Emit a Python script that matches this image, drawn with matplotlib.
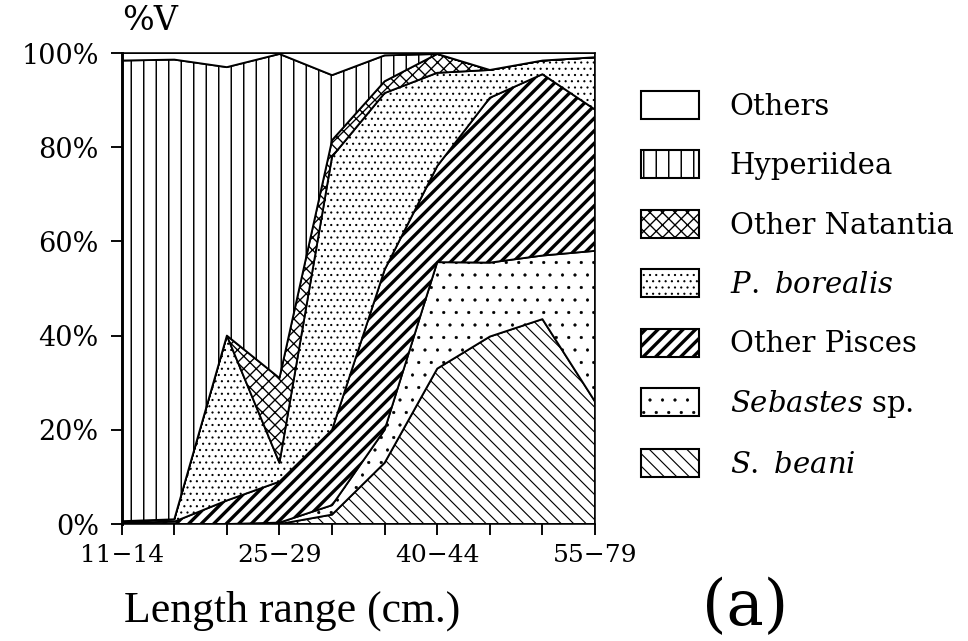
import numpy as np
import matplotlib
matplotlib.use('Agg')
import matplotlib.pyplot as plt

# ---------------- data (cumulative stack: bottom -> top) ----------------
categories = ['11-14', '15-19', '20-24', '25-29', '30-34',
              '35-39', '40-44', '45-49', '50-54', '55-79']
tick_labels = ['11\u221214', '', '', '25\u221229', '', '',
               '40\u221244', '', '', '55\u221279']
y_ticks = [0, 20, 40, 60, 80, 100]
y_tick_labels = ['0%', '20%', '40%', '60%', '80%', '100%']

s_beani        = [0.0, 0.0, 0.0, 0.0, 2.0, 13.0, 33.0, 39.8, 43.5, 26.0]
sebastes       = [0.0, 0.0, 0.0, 0.3, 2.0, 7.0, 22.6, 15.7, 13.5, 32.0]
other_pisces   = [0.3, 0.5, 5.0, 8.7, 16.0, 34.0, 20.4, 35.0, 38.5, 30.0]
p_borealis     = [0.3, 0.5, 35.0, 4.0, 58.0, 37.5, 19.8, 5.9, 2.9, 11.1]
other_natantia = [0.0, 0.0, 0.0, 18.0, 3.5, 2.5, 4.0, 0.0, 0.0, 0.0]
hyperiidea     = [97.8, 97.6, 57.0, 68.8, 13.8, 5.5, 0.0, 0.0, 0.0, 0.0]
others         = [1.6, 1.4, 3.0, 0.2, 4.7, 0.5, 0.2, 3.6, 1.6, 0.9]

series = [s_beani, sebastes, other_pisces, p_borealis,
          other_natantia, hyperiidea, others]

# ---------------- style ----------------
DPI = 75
plt.rcParams['font.family'] = ['DejaVu Serif']
plt.rcParams['mathtext.fontset'] = 'custom'
plt.rcParams['mathtext.it'] = 'DejaVu Serif:italic'
plt.rcParams['mathtext.rm'] = 'DejaVu Serif'

hatches = ['\\\\', '.', '//', '..', 'xx', '|', '']
hatch_lw = [1.1, 0.6, 3.2, 0.9, 1.3, 1.4, 1.0]
legend_labels = [r'$\mathit{S.\ beani}$', r'$\mathit{Sebastes}$ sp.',
                 'Other Pisces', r'$\mathit{P.\ borealis}$',
                 'Other Natantia', 'Hyperiidea', 'Others']

fig = plt.figure(figsize=(968 / DPI, 641 / DPI), dpi=DPI)
fig.patch.set_facecolor('white')
ax = fig.add_axes([0.1257, 0.1825, 0.4890, 0.7348])

x = np.arange(len(categories))
base = np.zeros(len(categories))
handles = []
for vals, h, lw in zip(series, hatches, hatch_lw):
    top = base + np.asarray(vals)
    with plt.rc_context({'hatch.linewidth': lw}):
        coll = ax.fill_between(x, base, top, facecolor='white',
                               edgecolor='black', linewidth=1.8, hatch=h)
        if hasattr(coll, 'set_hatch_linewidth'):
            coll.set_hatch_linewidth(lw)
    handles.append(coll)
    base = top

ax.set_xlim(0, len(categories) - 1)
ax.set_ylim(0, 100)
ax.set_xticks(x)
ax.set_xticklabels(tick_labels, fontsize=24)
ax.set_yticks(y_ticks)
ax.set_yticklabels(y_tick_labels, fontsize=26)
ax.tick_params(axis='both', direction='out', length=11, width=1.8, pad=8,
               colors='black')
ax.tick_params(axis='y', pad=11)
for side in ['top', 'right', 'bottom']:
    ax.spines[side].set_linewidth(1.5)
ax.spines['left'].set_linewidth(2.8)

ax.text(0.0, 1.035, '%V', transform=ax.transAxes, fontsize=32,
        ha='left', va='bottom')
fig.text(0.302, 0.016, 'Length range (cm.)', fontsize=42,
         family='Liberation Serif', ha='center', va='bottom')
fig.text(0.7696, 0.052, '(a)', fontsize=60, ha='center', va='center')

leg = fig.legend(handles[::-1], legend_labels[::-1], loc='upper left',
                 bbox_to_anchor=(0.662, 0.858), frameon=False, fontsize=28,
                 handlelength=2.0, handleheight=1.1, handletextpad=1.05,
                 labelspacing=1.01, borderpad=0, borderaxespad=0)
for p, lw in zip(leg.get_patches(), hatch_lw[::-1]):
    p.set_linewidth(2.0)
    if hasattr(p, 'set_hatch_linewidth'):
        p.set_hatch_linewidth(lw)

fig.savefig('out.png', dpi=DPI, facecolor='white')
